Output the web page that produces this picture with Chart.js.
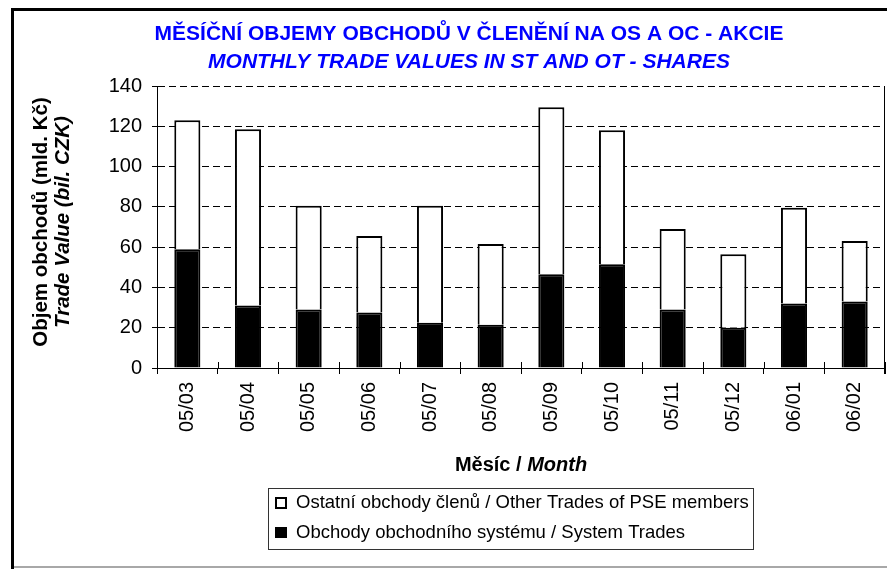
<!DOCTYPE html>
<html>
<head>
<meta charset="utf-8">
<script src="https://cdn.jsdelivr.net/npm/chart.js@4"></script>
<style>
html, body { margin: 0; padding: 0; background: #ffffff; }
#wrap { position: relative; width: 887px; height: 569px; }
canvas { display: block; }
</style>
</head>
<body>
<div id="wrap"><canvas id="c" width="887" height="569"></canvas></div>
<script>
// ---- data ----
const months = ['05/03','05/04','05/05','05/06','05/07','05/08','05/09','05/10','05/11','05/12','06/01','06/02'];
const systemTrades = [59, 31, 29, 27.5, 22.5, 21.5, 46.5, 51.5, 29, 20, 32, 33];
const otherTrades = [64, 87.5, 51.5, 38, 58, 40, 83, 66.5, 40, 36.5, 47.5, 30];
const yMin = 0;
const yMax = 140;
const yStep = 20;

// ---- texts ----
const titleCz = 'MĚSÍČNÍ OBJEMY OBCHODŮ V ČLENĚNÍ NA OS A OC - AKCIE';
const titleEn = 'MONTHLY TRADE VALUES IN ST AND OT - SHARES';
const yTitleCz = 'Objem obchodů (mld. Kč)';
const yTitleEn = 'Trade Value (bil. CZK)';
const xTitleCz = 'Měsíc / ';
const xTitleEn = 'Month';
const legendOther = 'Ostatní obchody členů / Other Trades of PSE members';
const legendSystem = 'Obchody obchodního systému / System Trades';

const FAM = "'Liberation Sans', Arial, Helvetica, sans-serif";

const decor = {
  id: 'decor',
  beforeDraw(chart) {
    const ctx = chart.ctx;
    ctx.save();
    ctx.fillStyle = '#ffffff';
    ctx.fillRect(0, 0, chart.width, chart.height);
    // outer frame
    ctx.fillStyle = '#000000';
    ctx.fillRect(11, 8, 3, chart.height - 8);
    ctx.fillRect(11, 8, chart.width - 11, 3);
    ctx.fillStyle = '#a8a8a8';
    ctx.fillRect(14, 566, chart.width - 14, 2);
    ctx.restore();
  },
  afterDraw(chart) {
    const ctx = chart.ctx;
    const a = chart.chartArea;
    const n = chart.scales.x.ticks.length;
    ctx.save();
    // plot area right border
    ctx.strokeStyle = '#000000';
    ctx.lineWidth = 1;
    ctx.beginPath();
    ctx.moveTo(Math.round(a.right) - 0.5, a.top);
    ctx.lineTo(Math.round(a.right) - 0.5, a.bottom + 6);
    ctx.stroke();
    // cross tick marks (inner part) on category axis
    const w = (a.right - a.left) / n;
    ctx.beginPath();
    for (let i = 0; i <= n; i++) {
      const x = Math.round(a.left + i * w) + 0.5;
      ctx.moveTo(x, a.bottom - 6);
      ctx.lineTo(x, a.bottom);
    }
    ctx.stroke();

    ctx.fillStyle = '#000000';
    // y axis title (rotated, two lines)
    ctx.save();
    ctx.translate(41, 222);
    ctx.rotate(-Math.PI / 2);
    ctx.textAlign = 'center';
    ctx.textBaseline = 'middle';
    ctx.font = 'bold 20.5px ' + FAM;
    ctx.fillText(yTitleCz, 0, 0);
    ctx.font = 'italic bold 20.5px ' + FAM;
    ctx.fillText(yTitleEn, 0, 22);
    ctx.restore();

    // x axis title (mixed style)
    ctx.textBaseline = 'middle';
    ctx.textAlign = 'left';
    ctx.font = 'bold 20px ' + FAM;
    const w1 = ctx.measureText(xTitleCz).width;
    ctx.font = 'italic bold 20px ' + FAM;
    const w2 = ctx.measureText(xTitleEn).width;
    const cx = (a.left + a.right) / 2;
    const sx = cx - (w1 + w2) / 2;
    ctx.font = 'bold 20px ' + FAM;
    ctx.fillText(xTitleCz, sx, 465);
    ctx.font = 'italic bold 20px ' + FAM;
    ctx.fillText(xTitleEn, sx + w1, 465);

    // legend
    ctx.strokeStyle = '#333333';
    ctx.lineWidth = 1;
    ctx.strokeRect(268.5, 488.5, 485, 61);
    ctx.fillStyle = '#ffffff';
    ctx.fillRect(275, 497, 11, 11);
    ctx.strokeStyle = '#000000';
    ctx.lineWidth = 2;
    ctx.strokeRect(276, 498, 10, 10);
    ctx.fillStyle = '#000000';
    ctx.fillRect(275, 527, 12, 11);
    ctx.font = '18.5px ' + FAM;
    ctx.textAlign = 'left';
    ctx.textBaseline = 'middle';
    ctx.fillText(legendOther, 296, 503);
    ctx.fillText(legendSystem, 296, 533);
    ctx.restore();
  }
};

new Chart(document.getElementById('c'), {
  type: 'bar',
  data: {
    labels: months,
    datasets: [
      {
        label: legendSystem,
        data: systemTrades,
        backgroundColor: '#000000',
        borderColor: '#000000',
        borderWidth: 2,
        barPercentage: 0.43,
        categoryPercentage: 1
      },
      {
        label: legendOther,
        data: otherTrades,
        backgroundColor: '#ffffff',
        borderColor: '#000000',
        borderWidth: 2,
        barPercentage: 0.43,
        categoryPercentage: 1
      }
    ]
  },
  options: {
    responsive: false,
    animation: false,
    devicePixelRatio: 1,
    layout: { padding: { left: 53, right: 2, top: 0, bottom: 0 } },
    plugins: {
      legend: { display: false },
      tooltip: { enabled: false },
      title: {
        display: true,
        text: titleCz,
        color: '#0000ff',
        font: { family: FAM, size: 21, weight: 'bold', lineHeight: 1.2 },
        padding: { top: 22, bottom: 2 }
      },
      subtitle: {
        display: true,
        text: titleEn,
        color: '#0000ff',
        font: { family: FAM, size: 21, weight: 'bold', style: 'italic', lineHeight: 1.2 },
        padding: { top: 0, bottom: 11.6 }
      }
    },
    scales: {
      x: {
        type: 'category',
        stacked: true,
        grid: {
          offset: true,
          drawOnChartArea: false,
          drawTicks: true,
          tickLength: 6,
          color: '#000000',
          tickColor: '#000000'
        },
        border: { display: true, color: '#000000', width: 1 },
        ticks: {
          autoSkip: false,
          minRotation: 90,
          maxRotation: 90,
          color: '#000000',
          padding: 8,
          font: { family: FAM, size: 20 }
        },
        afterFit(scale) { scale.height = 201; }
      },
      y: {
        stacked: true,
        min: yMin,
        max: yMax,
        ticks: {
          stepSize: yStep,
          color: '#000000',
          padding: 10,
          font: { family: FAM, size: 20 }
        },
        grid: {
          color: '#000000',
          lineWidth: 1,
          drawTicks: true,
          tickLength: 5,
          tickColor: '#000000',
          tickBorderDash: [],
          borderDash: [7, 4]
        },
        border: { display: true, color: '#000000', width: 1, dash: [7, 4] },
        afterFit(scale) { scale.width = 104; }
      }
    }
  },
  plugins: [decor]
});
</script>
</body>
</html>
